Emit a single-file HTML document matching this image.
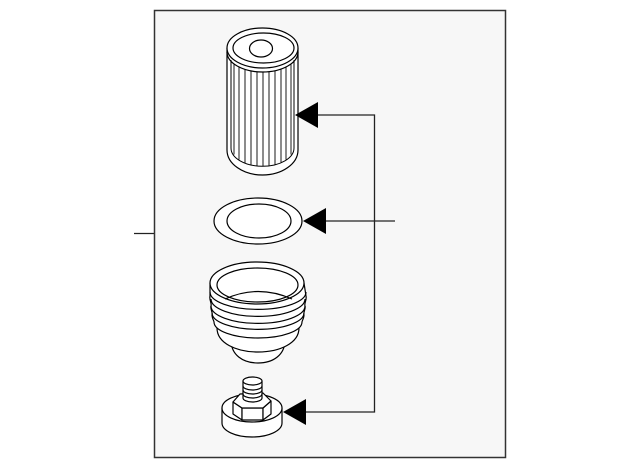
<!DOCTYPE html>
<html><head><meta charset="utf-8"><style>
html,body{margin:0;padding:0;background:#fff;}
svg{display:block;}
</style></head><body>
<svg width="640" height="468" viewBox="0 0 640 468" xmlns="http://www.w3.org/2000/svg">
<rect x="154.5" y="10.5" width="351" height="447" fill="#f7f7f7" stroke="#333" stroke-width="1.5"/>
<line x1="134" y1="233.5" x2="154" y2="233.5" stroke="#222" stroke-width="1.3"/>

<g fill="#fff" stroke="#000" stroke-width="1.2" stroke-linejoin="round">
<!-- Filter -->
<path d="M227,48 L227,150 A35.5,25 0 0 0 298,150 L298,48 Z"/>
<path d="M231,60 L231,148 A31,18 0 0 0 294,148 L294,60" fill="none" stroke-width="1"/>
<path d="M227,52 A35.5,20 0 0 0 298,52" fill="none"/>
<g stroke-width="0.9">
<line x1="234" y1="63.8" x2="234" y2="154.5"/>
<line x1="239" y1="66.9" x2="239" y2="159.6"/>
<line x1="245" y1="69.3" x2="245" y2="163"/>
<line x1="251" y1="71" x2="251" y2="164.8"/>
<line x1="257" y1="71.8" x2="257" y2="165.7"/>
<line x1="263" y1="72" x2="263" y2="166"/>
<line x1="269" y1="71.7" x2="269" y2="165.6"/>
<line x1="275" y1="70.7" x2="275" y2="164.5"/>
<line x1="281" y1="69" x2="281" y2="162.3"/>
<line x1="286" y1="66.9" x2="286" y2="159.6"/>
<line x1="291" y1="63.8" x2="291" y2="154.5"/>
</g>
<ellipse cx="262.5" cy="48" rx="35.5" ry="20"/>
<ellipse cx="263.5" cy="48" rx="30.5" ry="15" fill="none"/>
<ellipse cx="261" cy="48.5" rx="11.5" ry="8.5" fill="none"/>

<!-- Gasket -->
<ellipse cx="258" cy="221" rx="44" ry="23"/>
<ellipse cx="259" cy="221" rx="32" ry="17" fill="none"/>

<!-- Housing -->
<path d="M231,340 C231,355 243,363 258,363 C273,363 285,355 285,340 Z"/>
<path d="M217,312 L217,328 C217,343 236,352 258,352 C280,352 299,343 299,328 L299,312 Z"/>
<path d="M210,283 L210,296 C209,300 212,303 211,306 C210,309 213,312 212,315 C212,318 214,321 214,322 A44,16 0 0 0 302,322 C302,321 304,318 304,315 C303,312 306,309 305,306 C304,303 307,300 306,296 L304,283 Z"/>
<path d="M210,292 A47,17 0 0 0 306,292" fill="none"/>
<path d="M211,299 A46,17 0 0 0 305,299" fill="none"/>
<path d="M211,306 A46,17 0 0 0 305,306" fill="none"/>
<path d="M212,313 A45,16 0 0 0 304,313" fill="none"/>
<ellipse cx="257" cy="283" rx="47" ry="21"/>
<ellipse cx="257.5" cy="285" rx="40.5" ry="17" fill="none"/>
<path d="M225,299 Q258,284 292,299" fill="none"/>

<!-- Plug -->
<path d="M222,408 L222,423 A30,14 0 0 0 282,423 L282,408 Z"/>
<ellipse cx="252" cy="408" rx="30" ry="14"/>
<polygon points="233,402 242,408 242,420 233,414"/>
<polygon points="242,408 263,408 263,420 242,420"/>
<polygon points="263,408 271,401 271,414 263,420"/>
<polygon points="233,402 240,394 263,393 271,401 263,408 242,408"/>
<path d="M243,381 L243,398 A9.5,4 0 0 0 262,398 L262,381 Z"/>
<path d="M243,386 A9.5,4 0 0 0 262,386" fill="none"/>
<path d="M243,390 A9.5,4 0 0 0 262,390" fill="none"/>
<path d="M243,394 A9.5,4 0 0 0 262,394" fill="none"/>
<ellipse cx="252.5" cy="381" rx="9.5" ry="4"/>
</g>

<!-- Leaders -->
<g stroke="#222" stroke-width="1.3" fill="none">
<polyline points="318,115 374.5,115 374.5,412 306,412"/>
<line x1="326" y1="221" x2="395" y2="221"/>
</g>
<g fill="#000">
<polygon points="295,115 318,102 318,128"/>
<polygon points="303,221 326,208 326,234"/>
<polygon points="283,412 306,399 306,425"/>
</g>
</svg>
</body></html>
